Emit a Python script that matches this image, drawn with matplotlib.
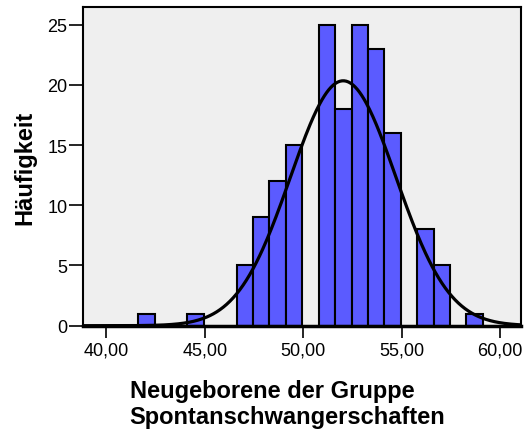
import numpy as np
import matplotlib
matplotlib.use("Agg")
import matplotlib.pyplot as plt
from matplotlib.ticker import FixedLocator, FuncFormatter

plt.rcParams['font.family'] = ['Liberation Sans', 'DejaVu Sans']

# Histogram bins (left edges) and counts
bin_start = 41.62
bin_width = 0.8333
counts = [1, 0, 0, 1, 0, 0, 5, 9, 12, 15, 0, 25, 18, 25, 23, 16, 0, 8, 5, 0, 1, 0]

# Normal curve parameters
mean_val = 52.03
sd_val = 2.68

x_ticks = [40, 45, 50, 55, 60]
y_ticks = [0, 5, 10, 15, 20, 25]

fig = plt.figure(figsize=(5.25, 4.35), dpi=100)
ax = fig.add_axes([0.1575, 0.249, 0.9924 - 0.1575, 0.981 - 0.249])
ax.set_facecolor('#EFEFEF')

edges = bin_start + bin_width * np.arange(len(counts))
for left, c in zip(edges, counts):
    if c > 0:
        ax.bar(left, c, width=bin_width, align='edge', color='#5B5BFF',
               edgecolor='black', linewidth=1.5, zorder=2)

xmin, xmax = 38.8, 61.06
xs = np.linspace(xmin, xmax, 400)
n_total = sum(counts)
ys = n_total * bin_width / (sd_val * np.sqrt(2 * np.pi)) * np.exp(-0.5 * ((xs - mean_val) / sd_val) ** 2)
ax.plot(xs, ys, color='black', linewidth=2.3, zorder=3, solid_capstyle='round')

ax.set_xlim(xmin, xmax)
ax.set_ylim(0, 26.45)
ax.xaxis.set_major_locator(FixedLocator(x_ticks))
ax.yaxis.set_major_locator(FixedLocator(y_ticks))
ax.xaxis.set_major_formatter(FuncFormatter(lambda v, p: f"{v:.2f}".replace('.', ',')))
ax.yaxis.set_major_formatter(FuncFormatter(lambda v, p: f"{int(v)}"))
ax.tick_params(axis='x', direction='out', length=8.5, width=1.2, pad=3, labelsize=13)
ax.tick_params(axis='y', direction='out', length=10, width=1.2, pad=1, labelsize=13)

for s in ['left', 'right', 'top']:
    ax.spines[s].set_linewidth(1.5)
ax.spines['bottom'].set_linewidth(2.5)

ax.set_ylabel('Häufigkeit', fontsize=17, fontweight='bold', labelpad=8)
ax.set_xlabel('Neugeborene der Gruppe\nSpontanschwangerschaften', fontsize=17,
              fontweight='bold', linespacing=1.15, multialignment='left')
ax.xaxis.set_label_coords(0.467, -0.168)
ax.xaxis.label.set_verticalalignment('top')

fig.savefig('out.png', dpi=100)
